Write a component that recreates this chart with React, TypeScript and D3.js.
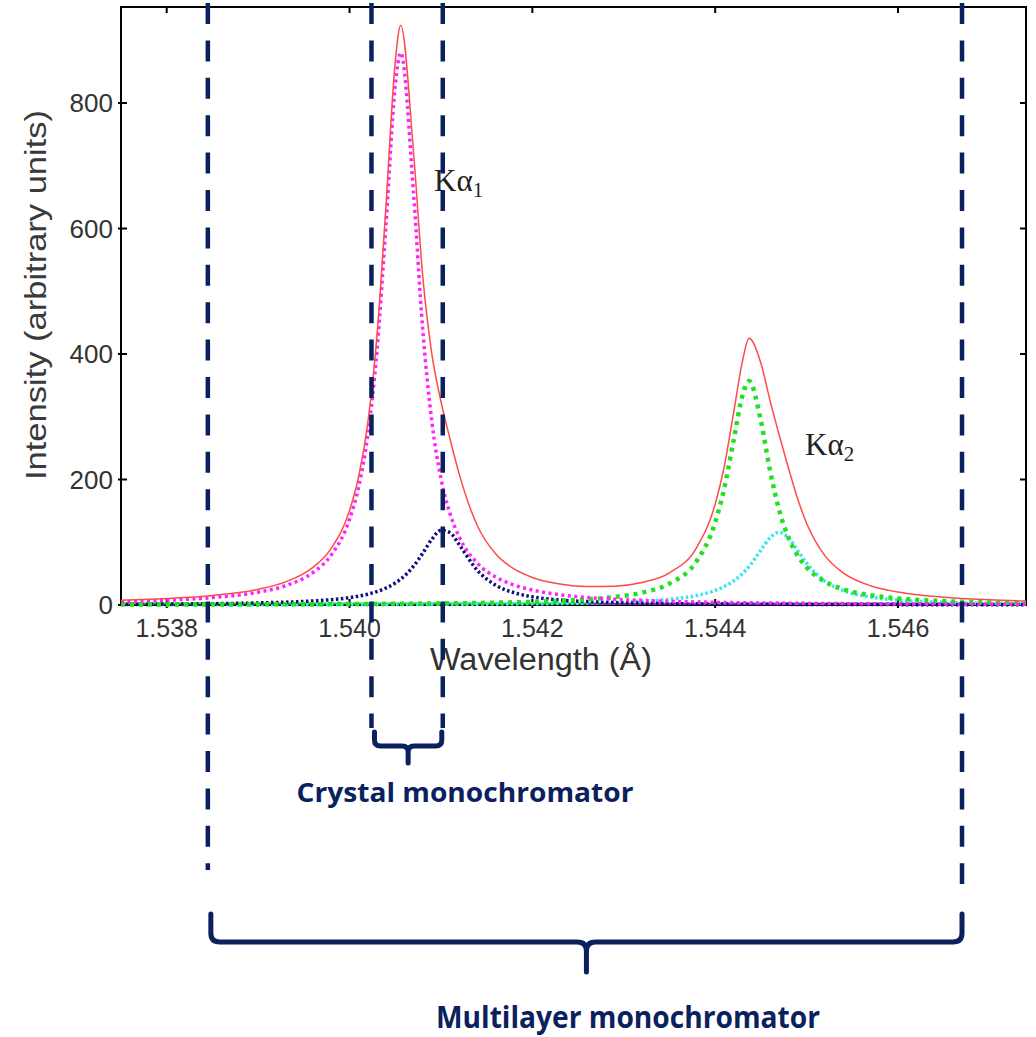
import React from "react";
import * as d3 from "d3";

// ---- Data ----
const wavelength = [
  1.5375, 1.538, 1.5385, 1.539, 1.5393, 1.5396, 1.5398, 1.54, 1.5401, 1.5402,
  1.5403, 1.5404, 1.5405, 1.54056, 1.5407, 1.5408, 1.5409, 1.541, 1.5411, 1.5412,
  1.5414, 1.5416, 1.5418, 1.542, 1.5423, 1.5426, 1.5429, 1.5432, 1.5435, 1.5438,
  1.544, 1.5441, 1.5442, 1.5443, 1.54437, 1.5445, 1.5446, 1.5447, 1.5448, 1.5449,
  1.545, 1.5452, 1.5454, 1.5457, 1.546, 1.5465, 1.547, 1.5474,
];
const ka1Main = [
  5.4, 7.7, 11.8, 20.4, 30.8, 51.8, 79.8, 136.6, 188.3, 270.8,
  404.8, 609.4, 828.2, 880, 656.7, 440, 292.6, 201.8, 145.2, 108.5,
  66.4, 44.5, 31.8, 23.8, 16.4, 12.0, 9.2, 7.2, 5.8, 4.8,
  4.3, 4.0, 3.8, 3.6, 3.5, 3.3, 3.1, 3.0, 2.8, 2.7,
  2.6, 2.4, 2.2, 1.9, 1.7, 1.4, 1.2, 1.1,
];
const ka1Minor = [
  1.1, 1.5, 2.1, 3.3, 4.5, 6.4, 8.5, 11.8, 14.2, 17.2,
  21.4, 27.1, 35.0, 41.2, 61.8, 82.3, 104.7, 119.1, 115.2, 96.0,
  54.9, 31.5, 19.6, 13.1, 8.0, 5.4, 3.8, 2.9, 2.2, 1.8,
  1.6, 1.5, 1.4, 1.3, 1.2, 1.1, 1.1, 1.0, 1.0, 0.9,
  0.9, 0.8, 0.7, 0.6, 0.6, 0.5, 0.4, 0.3,
];
const ka2Main = [
  0.6, 0.7, 0.8, 1.0, 1.1, 1.3, 1.4, 1.5, 1.6, 1.6,
  1.7, 1.8, 1.9, 2.0, 2.1, 2.2, 2.3, 2.4, 2.7, 2.8,
  3.2, 3.7, 4.3, 5.0, 6.6, 8.9, 12.8, 19.8, 34.2, 70.6,
  131.6, 186.5, 261.4, 334.6, 357, 293.4, 214.4, 151.1, 107.8, 79.2,
  60.0, 37.2, 25.1, 15.5, 10.5, 6.2, 4.1, 3.1,
];
const ka2Minor = [
  0.3, 0.3, 0.4, 0.4, 0.5, 0.5, 0.6, 0.6, 0.7, 0.7,
  0.7, 0.8, 0.8, 0.8, 0.9, 0.9, 1.0, 1.0, 1.1, 1.2,
  1.3, 1.5, 1.7, 1.9, 2.4, 3.1, 4.2, 6.0, 9.1, 15.2,
  23.2, 29.4, 38.2, 50.3, 61.4, 87.4, 107.2, 116, 107.2, 87.4,
  66.9, 38.2, 23.2, 12.7, 7.8, 4.2, 2.6, 1.9,
];
const total = [
  7.4, 10.2, 15.1, 25.1, 36.9, 60.0, 90.3, 150.5, 204.8, 290.3,
  428.6, 639.1, 865.9, 924, 721.5, 525.4, 400.6, 324.3, 264.2, 208.5,
  125.8, 81.2, 57.4, 43.8, 33.4, 29.4, 30.0, 35.9, 51.3, 92.4,
  160.7, 221.4, 304.8, 389.8, 425, 385.2, 325.8, 271.1, 218.8, 170.2,
  130.4, 78.6, 51.2, 30.7, 20.6, 12.3, 8.3, 6.4,
];
const baseGreenWavelength = [1.5375, 1.5474];
const baseGreen = [2.5, 2.5];
const basePurpleWavelength = [1.5426, 1.5474];
const basePurple = [1.5, 1.5];

const xTicks = [1.538, 1.54, 1.542, 1.544, 1.546];
const yTicks = [0, 200, 400, 600, 800];

// monochromator windows (wavelength)
const crystalWindow = [1.54024, 1.54102];
const multilayerWindow = [1.53845, 1.5467];

const NAVY = "#0b215e";

export default function App() {
  const left = 121, right = 1026, top = 7, bottom = 605;
  const x = d3.scaleLinear().domain([1.5375, 1.5474]).range([left, right]);
  const y = d3.scaleLinear().domain([0, 953]).range([bottom, top]);

  const mk = (xs: number[], ys: number[]) =>
    d3
      .line<number>()
      .x((_, i) => x(xs[i]))
      .y((v) => y(v))
      .curve(d3.curveMonotoneX)(ys) as string;

  const tickIn = 6, tickOut = 3;
  const fmt = d3.format(".3f");

  const bracket = (x1: number, x2: number, yTop: number, yH: number, yB: number, r: number) => {
    const xc = (x1 + x2) / 2;
    return `M${x1},${yTop} L${x1},${yH - r} Q${x1},${yH} ${x1 + r},${yH} L${xc - r},${yH} Q${xc},${yH} ${xc},${yH + r} L${xc},${yB} M${xc},${yH + r} Q${xc},${yH} ${xc + r},${yH} L${x2 - r},${yH} Q${x2},${yH} ${x2},${yH - r} L${x2},${yTop}`;
  };

  const cx1 = x(crystalWindow[0]);
  const cx2 = x(crystalWindow[1]);
  const mx1 = x(multilayerWindow[0]);
  const mx2 = x(multilayerWindow[1]);
  const serif = "'Liberation Serif', 'Times New Roman', serif";

  return (
    <svg
      width={1036}
      height={1037}
      style={{ position: "absolute", left: 0, top: 0, background: "#fff" }}
      fontFamily="'Liberation Sans', Arial, sans-serif"
    >
      <rect x={0} y={0} width={1036} height={1037} fill="#fff" />
      {/* axes box */}
      <rect x={left} y={top} width={right - left} height={bottom - top} fill="none" stroke="#000" strokeWidth={2} />
      {xTicks.map((t) => (
        <g key={"x" + t}>
          <line x1={x(t)} x2={x(t)} y1={bottom + tickOut} y2={bottom - tickIn} stroke="#000" strokeWidth={2} />
          <line x1={x(t)} x2={x(t)} y1={top} y2={top + tickIn} stroke="#000" strokeWidth={2} />
          <text x={x(t)} y={637} textAnchor="middle" fontSize={25} fill="#333">
            {fmt(t)}
          </text>
        </g>
      ))}
      {yTicks.map((t) => (
        <g key={"y" + t}>
          <line x1={left - tickOut} x2={left + tickIn} y1={y(t)} y2={y(t)} stroke="#000" strokeWidth={2} />
          <line x1={right} x2={right - tickIn} y1={y(t)} y2={y(t)} stroke="#000" strokeWidth={2} />
          <text x={113} y={y(t) + 9} textAnchor="end" fontSize={26} fill="#333">
            {t}
          </text>
        </g>
      ))}
      <text x={541} y={670} textAnchor="middle" fontSize={31} fill="#333" textLength={222} lengthAdjust="spacingAndGlyphs">
        Wavelength (Å)
      </text>
      <text transform="translate(46,295) rotate(-90)" textAnchor="middle" fontSize={30} fill="#3a3a3a" textLength={370} lengthAdjust="spacingAndGlyphs">
        Intensity (arbitrary units)
      </text>

      {/* curves */}
      <path d={mk(baseGreenWavelength, baseGreen)} fill="none" stroke="#22cc22" strokeWidth={2} />
      <path d={mk(basePurpleWavelength, basePurple)} fill="none" stroke="#9a20c8" strokeWidth={2} />
      <path d={mk(wavelength, ka2Minor)} fill="none" stroke="#33e6f0" strokeWidth={3.5} strokeDasharray="2.5,2.5" />
      <path d={mk(wavelength, ka1Minor)} fill="none" stroke="#10107a" strokeWidth={3.5} strokeDasharray="2.5,2.5" />
      <path d={mk(wavelength, ka2Main)} fill="none" stroke="#22e022" strokeWidth={4.5} strokeDasharray="4,5" />
      <path d={mk(wavelength, ka1Main)} fill="none" stroke="#ff22ff" strokeWidth={3.5} strokeDasharray="3,3.5" />
      <path d={mk(wavelength, total)} fill="none" stroke="#ff4a4a" strokeWidth={1.5} />

      {/* peak labels */}
      <text x={434} y={191} fontFamily={serif} fontSize={31} fill="#222">
        Kα<tspan fontSize={21} dy={6}>1</tspan>
      </text>
      <text x={805} y={455} fontFamily={serif} fontSize={31} fill="#222">
        Kα<tspan fontSize={21} dy={6}>2</tspan>
      </text>

      {/* monochromator windows */}
      <g stroke={NAVY} strokeWidth={4.5} strokeDasharray="21,16.4" fill="none">
        <line x1={mx1} x2={mx1} y1={3} y2={870} />
        <line x1={cx1} x2={cx1} y1={3} y2={728} />
        <line x1={cx2} x2={cx2} y1={3} y2={728} />
        <line x1={mx2} x2={mx2} y1={3} y2={884} />
      </g>
      <g stroke={NAVY} strokeWidth={5} fill="none" strokeLinecap="round" strokeLinejoin="round">
        <path d={bracket(cx1 + 3, cx2 - 1, 732, 746, 763, 6)} />
        <path d={bracket(mx1 + 3, mx2, 914, 942, 972, 9)} />
      </g>
      <text x={465} y={802} textAnchor="middle" fontFamily="'Open Sans', sans-serif" fontWeight={700} fontSize={27} fill={NAVY} textLength={337} lengthAdjust="spacingAndGlyphs">
        Crystal monochromator
      </text>
      <text x={628} y={1028} textAnchor="middle" fontFamily="'Open Sans', sans-serif" fontWeight={700} fontSize={30} fill={NAVY} textLength={384} lengthAdjust="spacingAndGlyphs">
        Multilayer monochromator
      </text>
    </svg>
  );
}
